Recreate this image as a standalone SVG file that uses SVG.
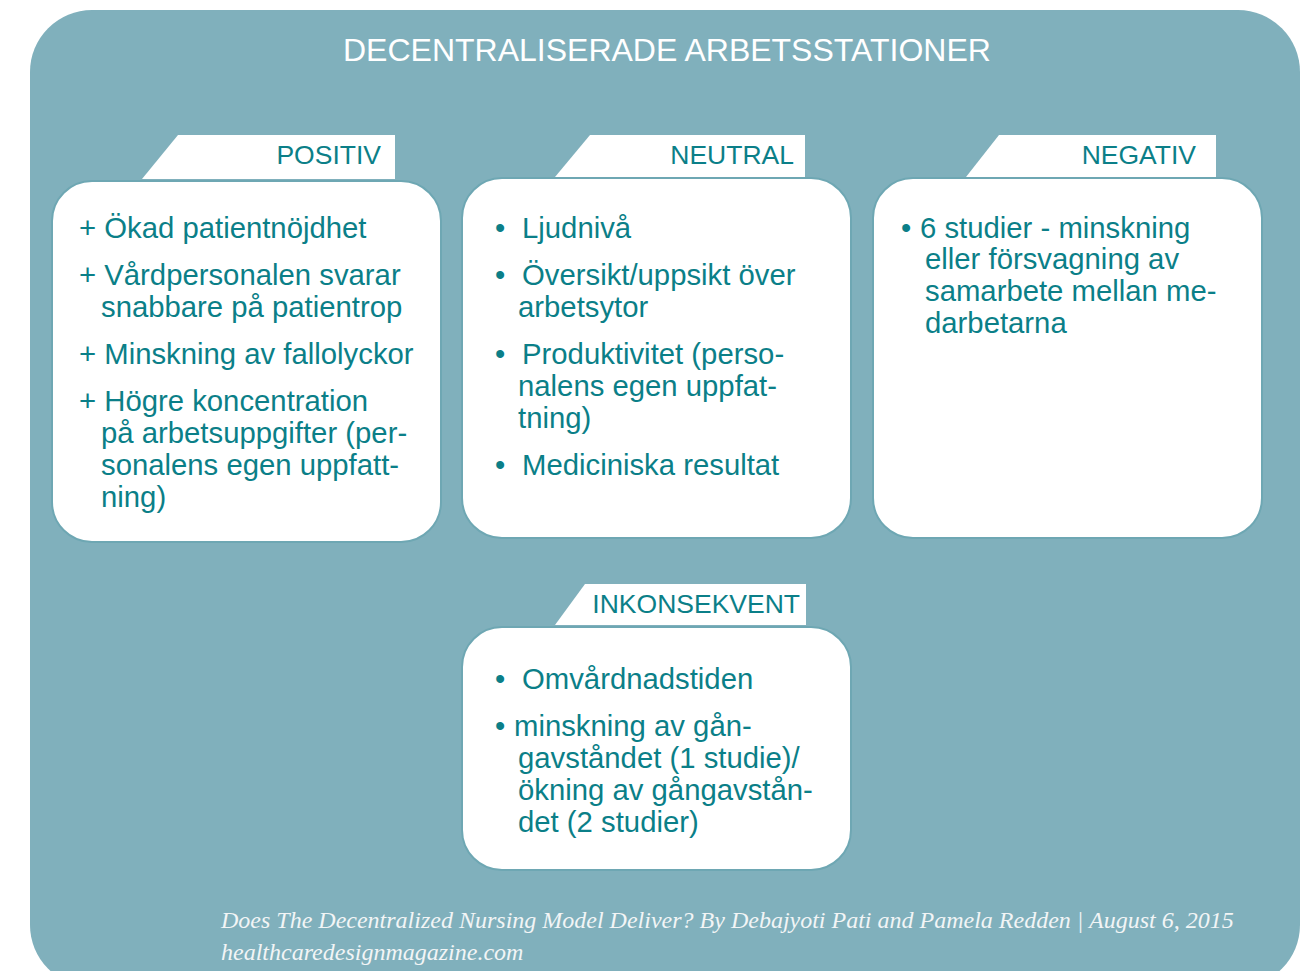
<svg xmlns="http://www.w3.org/2000/svg" width="1306" height="971" viewBox="0 0 1306 971">
<style>
.bg{fill:#80b0bc}
.card{fill:#ffffff;stroke:#6ea7b3;stroke-width:2}
.tab{fill:#ffffff}
.t{font-family:"Liberation Sans",Arial,sans-serif;font-size:29.3px;fill:#0b7f88}
.tl{font-family:"Liberation Sans",Arial,sans-serif;font-size:26.5px;fill:#0b7f88}
.title{font-family:"Liberation Sans",Arial,sans-serif;font-size:32px;fill:#ffffff}
.cite{font-family:"Liberation Serif","Times New Roman",serif;font-style:italic;font-size:24px;fill:#f2f5f6}
</style>
<rect class="bg" x="30" y="10" width="1270" height="977" rx="62" ry="62"/>
<text class="title" x="343" y="61">DECENTRALISERADE ARBETSSTATIONER</text>

<g id="positiv">
<polygon class="tab" points="178,135 395,135 395,179 142,179"/>
<text class="tl" x="381" y="164" text-anchor="end">POSITIV</text>
<rect class="card" x="52" y="181" width="389" height="361" rx="40" ry="40"/>
<text class="t" x="79" y="238">+ Ökad patientnöjdhet</text>
<text class="t" x="79" y="285">+ Vårdpersonalen svarar</text>
<text class="t" x="101" y="317">snabbare på patientrop</text>
<text class="t" x="79" y="364">+ Minskning av fallolyckor</text>
<text class="t" x="79" y="411">+ Högre koncentration</text>
<text class="t" x="101" y="443">på arbetsuppgifter (per-</text>
<text class="t" x="101" y="475">sonalens egen uppfatt-</text>
<text class="t" x="101" y="507">ning)</text>
</g>

<g id="neutral">
<polygon class="tab" points="590,135 805,135 805,177 555,177"/>
<text class="tl" x="794" y="164" text-anchor="end">NEUTRAL</text>
<rect class="card" x="462" y="178" width="389" height="360" rx="40" ry="40"/>
<text class="t" x="495" y="238">•</text><text class="t" x="522" y="238">Ljudnivå</text>
<text class="t" x="495" y="285">•</text><text class="t" x="522" y="285">Översikt/uppsikt över</text>
<text class="t" x="518" y="317">arbetsytor</text>
<text class="t" x="495" y="364">•</text><text class="t" x="522" y="364">Produktivitet (perso-</text>
<text class="t" x="518" y="396">nalens egen uppfat-</text>
<text class="t" x="518" y="428">tning)</text>
<text class="t" x="495" y="475">•</text><text class="t" x="522" y="475">Mediciniska resultat</text>
</g>

<g id="negativ">
<polygon class="tab" points="999,135 1216,135 1216,177 966,177"/>
<text class="tl" x="1196" y="164" text-anchor="end">NEGATIV</text>
<rect class="card" x="873" y="178" width="389" height="360" rx="40" ry="40"/>
<text class="t" x="901" y="238">•</text><text class="t" x="920" y="238">6 studier - minskning</text>
<text class="t" x="925" y="269">eller försvagning av</text>
<text class="t" x="925" y="301">samarbete mellan me-</text>
<text class="t" x="925" y="333">darbetarna</text>
</g>

<g id="inkonsekvent">
<polygon class="tab" points="585,584 806,584 806,625 555,625"/>
<text class="tl" x="800" y="613" text-anchor="end">INKONSEKVENT</text>
<rect class="card" x="462" y="627" width="389" height="243" rx="40" ry="40"/>
<text class="t" x="495" y="689">•</text><text class="t" x="522" y="689">Omvårdnadstiden</text>
<text class="t" x="495" y="736">•</text><text class="t" x="514" y="736">minskning av gån-</text>
<text class="t" x="518" y="768">gavståndet (1 studie)/</text>
<text class="t" x="518" y="800">ökning av gångavstån-</text>
<text class="t" x="518" y="832">det (2 studier)</text>
</g>

<g id="connectors"></g>

<text class="cite" x="221" y="928">Does The Decentralized Nursing Model Deliver? By Debajyoti Pati and Pamela Redden | August 6, 2015</text>
<text class="cite" x="221" y="960">healthcaredesignmagazine.com</text>
</svg>
